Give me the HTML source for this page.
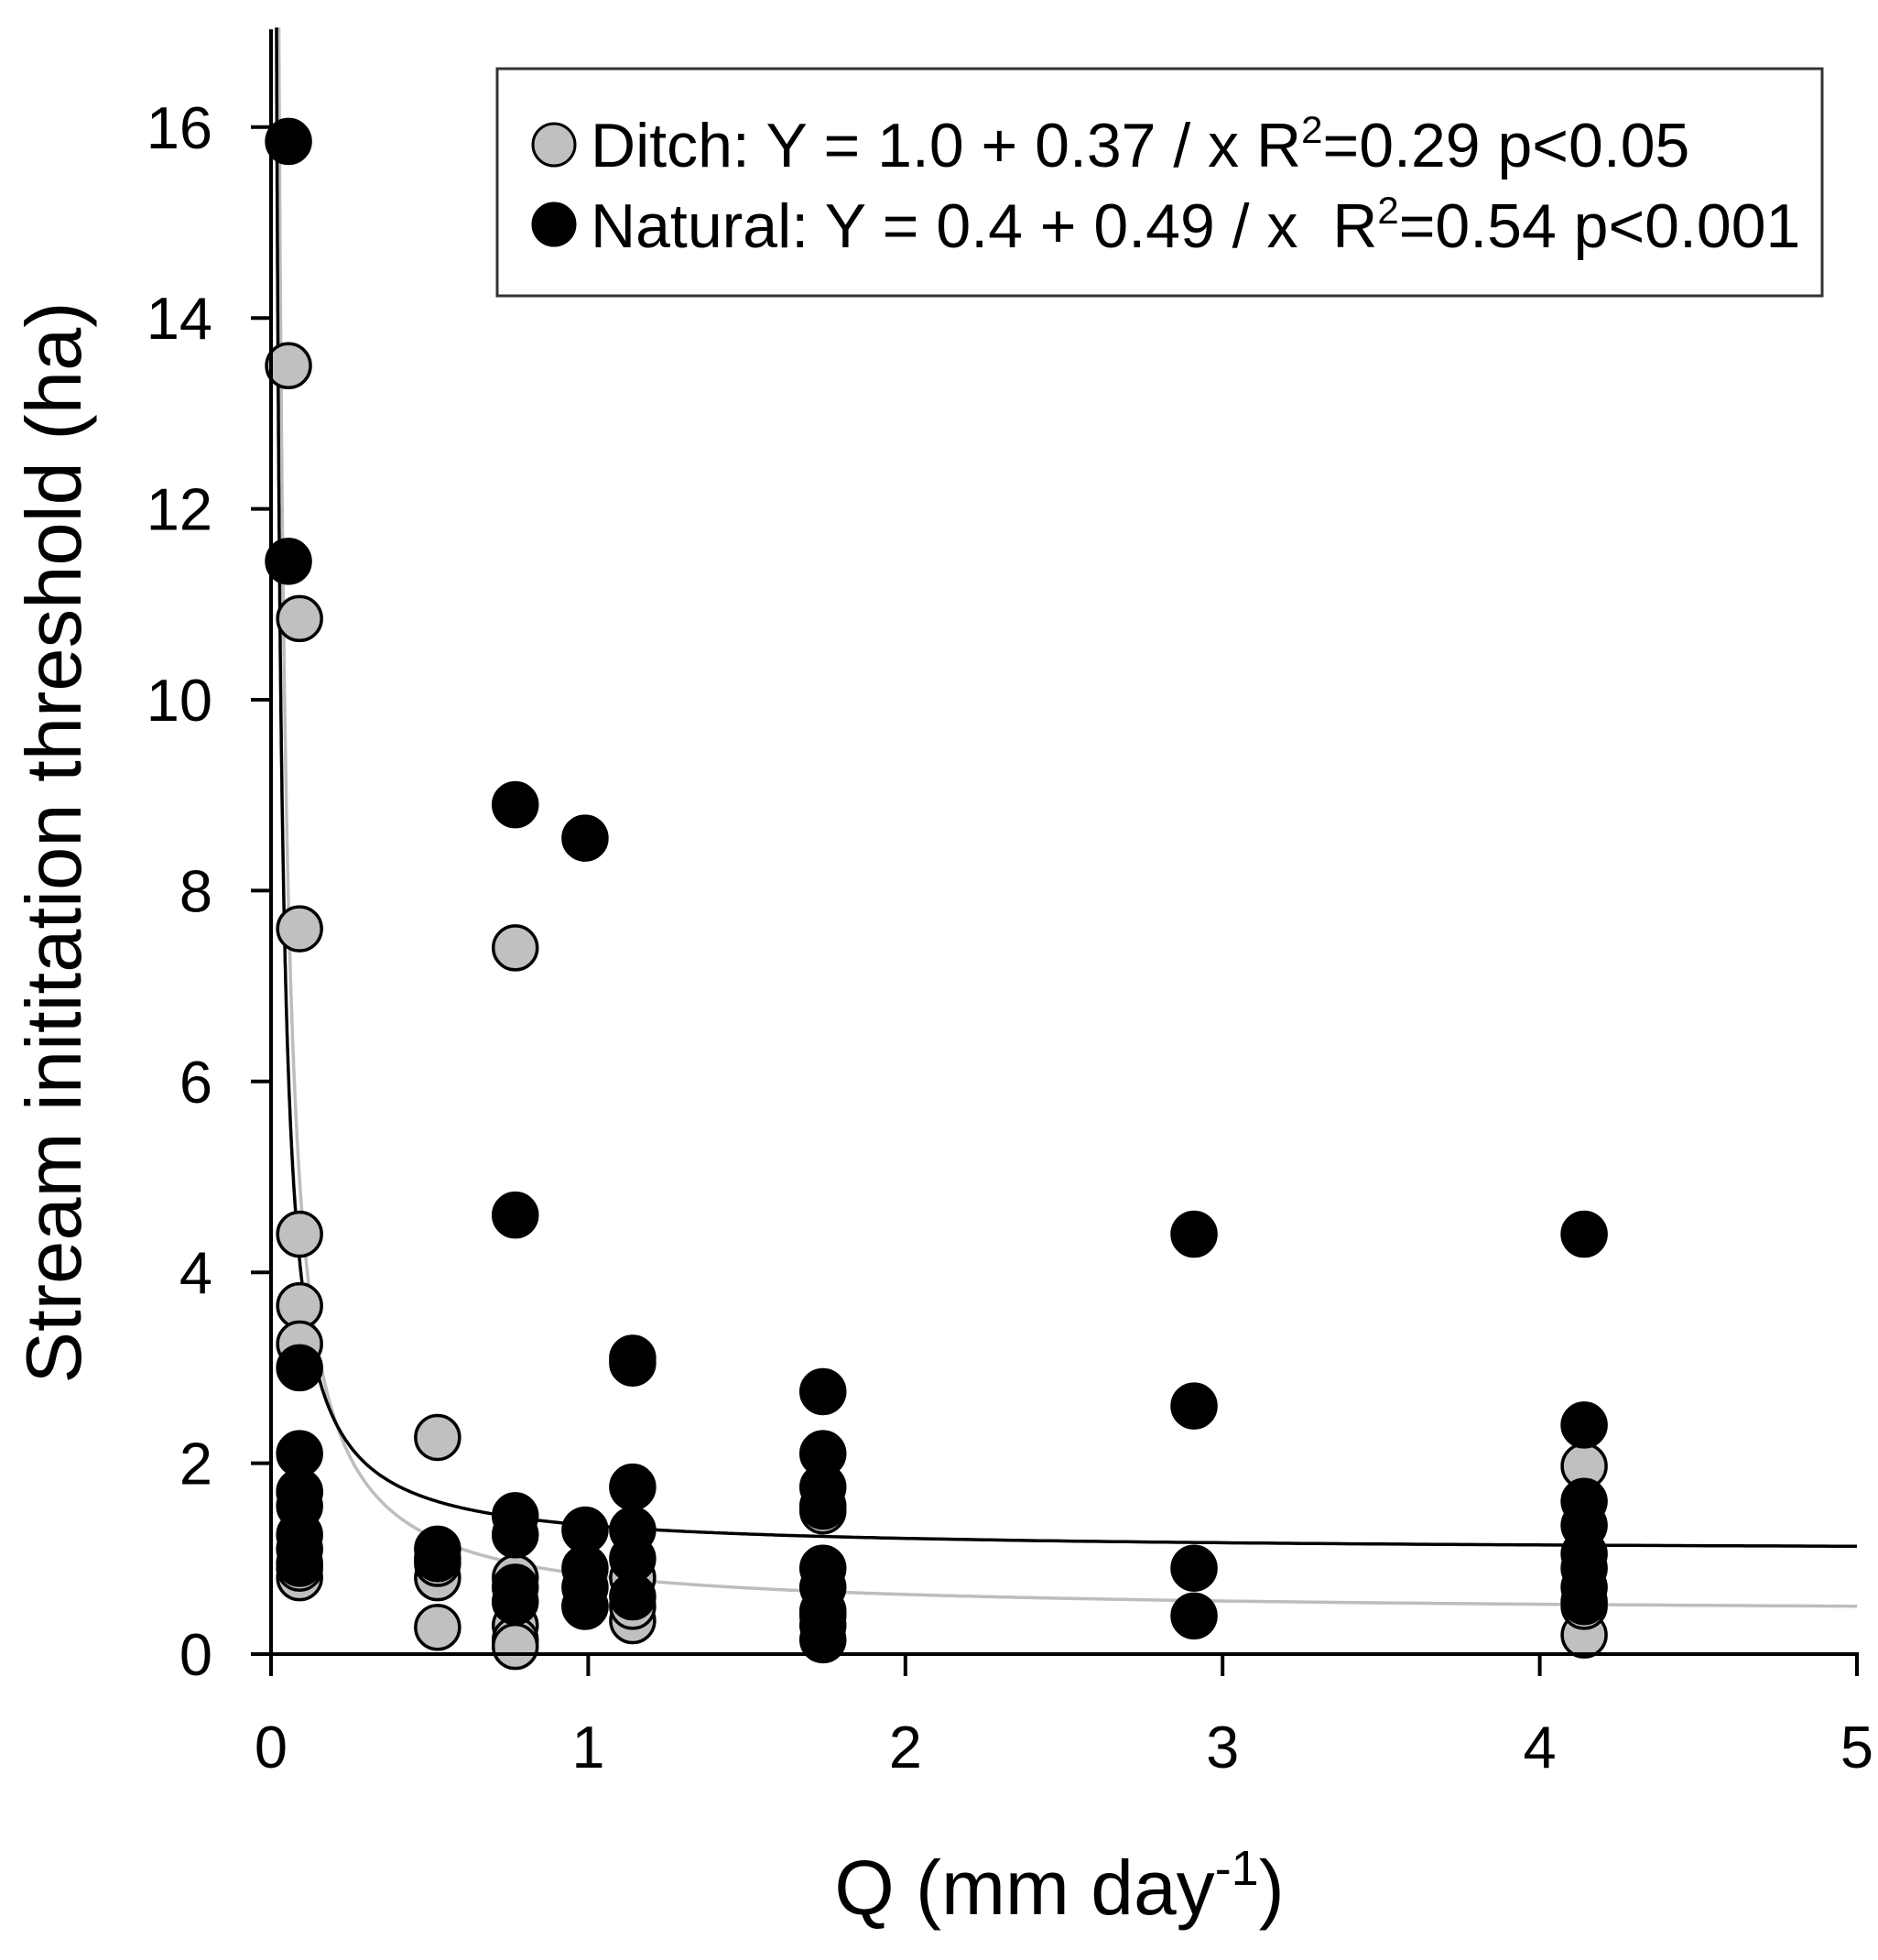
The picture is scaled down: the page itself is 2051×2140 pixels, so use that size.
<!DOCTYPE html>
<html><head><meta charset="utf-8"><style>
html,body{margin:0;padding:0;background:#fff}
svg{display:block}
text{font-family:"Liberation Sans",Arial,sans-serif;fill:#000}
</style></head><body>
<svg id="chart" width="2051" height="2140" viewBox="0 0 2051 2140" xmlns="http://www.w3.org/2000/svg">
<defs><clipPath id="plotclip"><rect x="296" y="30" width="1740" height="1780"/></clipPath></defs>
<g id="curves" clip-path="url(#plotclip)"></g>
<g id="points"></g>
<g id="axes"></g>
<g>
<rect x="543" y="75" width="1447" height="248" fill="#fff" stroke="#333" stroke-width="3"/>
<circle cx="605" cy="158" r="23" fill="#c0c0c0" stroke="#000" stroke-width="3"/>
<text x="645" y="182" font-size="68">Ditch: Y = 1.0 + 0.37 / x R<tspan dy="-26" font-size="42">2</tspan><tspan dy="26">=0.29 p&lt;0.05</tspan></text>
<circle cx="605" cy="245" r="23" fill="#000" stroke="#000" stroke-width="3"/>
<text x="645" y="270" font-size="68" xml:space="preserve">Natural: Y = 0.4 + 0.49 / x  R<tspan dy="-26" font-size="42">2</tspan><tspan dy="26">=0.54 p&lt;0.001</tspan></text>
</g>
<text transform="translate(88,920) rotate(-90)" text-anchor="middle" font-size="85">Stream inititation threshold (ha)</text>
<text x="1157" y="2090" text-anchor="middle" font-size="84">Q (mm day<tspan dy="-32" font-size="54">-1</tspan><tspan dy="32">)</tspan></text>
</svg>
<script>
const xTicks=[0,1,2,3,4,5];
const yTicks=[0,2,4,6,8,10,12,14,16];
const ditchX=[0.055,0.09,0.09,0.09,0.09,0.09,0.09,0.09,0.09,0.525,0.525,0.525,0.525,0.77,0.77,0.77,0.77,0.77,0.99,1.14,1.14,1.14,1.74,1.74,4.14,4.14,4.14];
const ditchY=[13.5,10.85,7.6,4.4,3.65,3.25,1.7,0.8,0.9,2.27,0.8,0.95,0.28,7.4,0.8,0.3,0.15,0.08,0.5,0.35,0.5,0.8,1.5,0.4,0.2,0.5,1.97];
const naturalX=[0.055,0.055,0.09,0.09,0.09,0.09,0.09,0.09,0.09,0.525,0.525,0.77,0.77,0.77,0.77,0.77,0.77,0.99,0.99,0.99,0.99,0.99,1.14,1.14,1.14,1.14,1.14,1.14,1.74,1.74,1.74,1.74,1.74,1.74,1.74,1.74,1.74,2.91,2.91,2.91,2.91,4.14,4.14,4.14,4.14,4.14,4.14,4.14,4.14];
const naturalY=[15.85,11.45,3.0,2.1,1.7,1.55,1.25,1.1,0.95,1.1,1.0,8.9,4.6,1.45,1.25,0.7,0.55,8.55,1.3,0.9,0.7,0.5,3.05,3.1,1.75,1.3,1.0,0.6,2.75,2.1,1.75,1.55,0.9,0.7,0.45,0.3,0.15,4.4,2.6,0.9,0.4,4.4,2.4,1.6,1.35,1.05,0.9,0.7,0.55];
const ditchFit=[0.42,0.41];
const naturalFit=[1.075,0.275];
const NS='http://www.w3.org/2000/svg';
const X0=296,XU=346.4,Y0=1806,YU=104.2;
const sx=v=>X0+v*XU, sy=v=>Y0-v*YU;
function mk(tag,attrs,parent){const e=document.createElementNS(NS,tag);for(const k in attrs)e.setAttribute(k,attrs[k]);parent.appendChild(e);return e;}
const axes=document.getElementById('axes');
let a=mk('line',{x1:X0,y1:32,x2:X0,y2:Y0+2,stroke:'#000','stroke-width':4},axes);


a=mk('line',{x1:X0-22,y1:Y0,x2:sx(5)+2,y2:Y0,stroke:'#000','stroke-width':4},axes);


xTicks.forEach(t=>{
 const l=mk('line',{x1:sx(t),y1:Y0,x2:sx(t),y2:Y0+24,stroke:'#000','stroke-width':4},axes);
 
 
 const tx=mk('text',{x:sx(t),y:Y0+124,'text-anchor':'middle','font-size':65},axes);
 tx.textContent=t;
 
 
});
yTicks.forEach(t=>{
 const l=mk('line',{x1:X0-22,y1:sy(t),x2:X0,y2:sy(t),stroke:'#000','stroke-width':4},axes);
 
 
 const tx=mk('text',{x:X0-64,y:sy(t)+23,'text-anchor':'end','font-size':65},axes);
 tx.textContent=t;
 
 
});
const curves=document.getElementById('curves');
function curve(fit,color,name){
 let d='';
 for(let i=0;i<=800;i++){const x=0.012*Math.pow(5/0.012,i/800);const y=fit[0]+fit[1]/x;d+=(i?'L':'M')+sx(x).toFixed(1)+','+Math.max(sy(y),-50).toFixed(1);}
 const p=mk('path',{d:d,fill:'none',stroke:color,'stroke-width':3.5},curves);
 
 
}
curve(ditchFit,'#bdbdbd','ditch-fit-curve');
curve(naturalFit,'#000','natural-fit-curve');
const pts=document.getElementById('points');
ditchX.forEach((x,i)=>{
 const c=mk('circle',{cx:sx(x),cy:sy(ditchY[i]),r:24,fill:'#c0c0c0',stroke:'#000','stroke-width':3.5},pts);
 
 
});
naturalX.forEach((x,i)=>{
 const c=mk('circle',{cx:sx(x),cy:sy(naturalY[i]),r:24,fill:'#000',stroke:'#000','stroke-width':3.5},pts);
 
 
});
</script>
</body></html>
